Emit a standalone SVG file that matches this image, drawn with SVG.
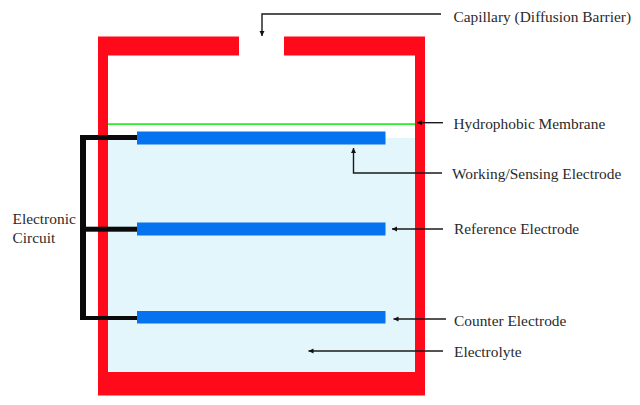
<svg xmlns="http://www.w3.org/2000/svg" width="640" height="405" viewBox="0 0 640 405">
<style>
.wall{fill:#ff0a1a}
.el{fill:#0573f0}
.wire{fill:#0a0a0a}
.ln{fill:none;stroke:#1a1a1a;stroke-width:1.4}
text{font-family:"Liberation Serif","Times New Roman",serif;font-size:15.4px;fill:#2a2a2a}
</style>
<defs>
<marker id="ah" markerUnits="userSpaceOnUse" markerWidth="7" markerHeight="7" refX="5" refY="3.5" orient="auto"><path d="M0 1L5 3.5L0 6Z" fill="#111"/></marker>
</defs>
<rect width="640" height="405" fill="#fff"/>
<g id="cell">
<rect x="108" y="138" width="307" height="234" fill="#e2f6fc"/>
<path class="wall" d="M98 36.5H239V55.5H108V372H415V55.5H284V36.5H425V395.5H98Z"/>
</g>
<g id="membrane"><rect x="108" y="123.3" width="307" height="1.6" fill="#1fe81f"/></g>
<g id="working-electrode"><rect class="el" x="137" y="131.5" width="248.5" height="13"/></g>
<g id="reference-electrode"><rect class="el" x="137" y="222.5" width="248.5" height="13"/></g>
<g id="counter-electrode"><rect class="el" x="137" y="311" width="248.5" height="12.5"/></g>
<g id="circuit">
<rect class="wire" x="80" y="135" width="6" height="185"/>
<rect class="wire" x="80" y="135" width="57" height="5"/>
<rect class="wire" x="85" y="226.7" width="52" height="5"/>
<rect class="wire" x="80" y="316" width="57" height="4"/>
</g>
<g id="connectors">
<path class="ln" marker-end="url(#ah)" d="M441 14H262V36"/>
<path class="ln" marker-end="url(#ah)" d="M443 122.7H417"/>
<path class="ln" marker-end="url(#ah)" d="M442 173H353.500V148"/>
<path class="ln" marker-end="url(#ah)" d="M443 229H392"/>
<path class="ln" marker-end="url(#ah)" d="M446 319H393.500"/>
<path class="ln" marker-end="url(#ah)" d="M443 351H308.500"/>
</g>
<g id="labels">
<text x="453.500" y="21.500">Capillary (Diffusion Barrier)</text>
<text x="453.500" y="129">Hydrophobic Membrane</text>
<text x="452" y="179">Working/Sensing Electrode</text>
<text x="454" y="234">Reference Electrode</text>
<text x="454" y="326">Counter Electrode</text>
<text x="454" y="356.500">Electrolyte</text>
<text x="12.500" y="223.500">Electronic</text>
<text x="12.500" y="243">Circuit</text>
</g>
</svg>
